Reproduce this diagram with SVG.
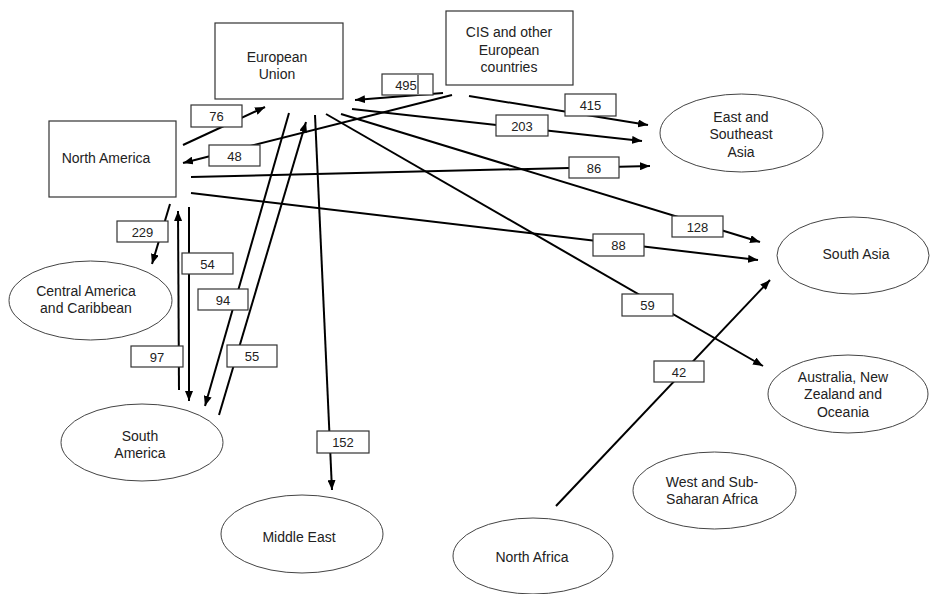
<svg xmlns="http://www.w3.org/2000/svg" width="930" height="594" viewBox="0 0 930 594">
<style>
.node{fill:#fff;stroke:#333;stroke-width:1.2}
.ell{fill:#fff;stroke:#444;stroke-width:1}
.t{font-family:"Liberation Sans",Arial,sans-serif;font-size:14px;fill:#222;text-anchor:middle}
.lt{font-family:"Liberation Sans",Arial,sans-serif;font-size:13px;fill:#222;text-anchor:middle}
.c{stroke:#000;stroke-width:2;fill:none;marker-end:url(#ah)}
.lb{fill:#fff;stroke:#333;stroke-width:1.2}
</style>
<defs>
<marker id="ah" viewBox="0 0 10 8" refX="10" refY="4" markerWidth="10" markerHeight="8" markerUnits="userSpaceOnUse" orient="auto">
<path d="M0,0 L10,4 L0,8 Z" fill="#000"/>
</marker>
</defs>
<rect width="930" height="594" fill="#fff"/>
<g id="connectors">
<line class="c" x1="183" y1="145" x2="265" y2="107"/>
<line class="c" x1="443" y1="93" x2="355" y2="100"/>
<line class="c" x1="452" y1="95" x2="183" y2="163"/>
<line class="c" x1="469" y1="96" x2="648" y2="125"/>
<line class="c" x1="352" y1="109" x2="642" y2="141"/>
<line class="c" x1="191" y1="177" x2="650" y2="166"/>
<line class="c" x1="341" y1="114" x2="760" y2="242"/>
<line class="c" x1="191" y1="193" x2="758" y2="260"/>
<line class="c" x1="326" y1="114" x2="763" y2="366"/>
<line class="c" x1="556" y1="506" x2="770" y2="280"/>
<line class="c" x1="170" y1="204" x2="152" y2="264"/>
<line class="c" x1="179" y1="390" x2="178" y2="211"/>
<line class="c" x1="189" y1="207" x2="189" y2="401"/>
<line class="c" x1="289" y1="113" x2="205" y2="406"/>
<line class="c" x1="219" y1="415" x2="306" y2="122"/>
<line class="c" x1="315" y1="115" x2="332" y2="490"/>
<g id="labels">
<rect class="lb" x="191" y="105" width="51" height="22"/><text class="lt" x="216.5" y="121">76</text>
<rect class="lb" x="382" y="74" width="51" height="21"/><text class="lt" x="406" y="89.5">495</text>
<line x1="418" y1="75" x2="418" y2="94" stroke="#000" stroke-width="1"/>
<rect class="lb" x="209" y="145" width="51" height="21"/><text class="lt" x="234.5" y="160.5">48</text>
<rect class="lb" x="565" y="94" width="51" height="22"/><text class="lt" x="590.5" y="110">415</text>
<rect class="lb" x="496" y="115" width="52" height="21"/><text class="lt" x="522" y="130.5">203</text>
<rect class="lb" x="569" y="157" width="50" height="21"/><text class="lt" x="594" y="172.5">86</text>
<rect class="lb" x="672" y="216" width="51" height="21"/><text class="lt" x="697.5" y="231.5">128</text>
<rect class="lb" x="593" y="234" width="51" height="22"/><text class="lt" x="618.5" y="250">88</text>
<rect class="lb" x="622" y="294" width="51" height="22"/><text class="lt" x="647.5" y="310">59</text>
<rect class="lb" x="654" y="361" width="50" height="21"/><text class="lt" x="679" y="376.5">42</text>
<rect class="lb" x="117" y="221" width="51" height="21"/><text class="lt" x="142.5" y="236.5">229</text>
<rect class="lb" x="182" y="253" width="51" height="21"/><text class="lt" x="207.5" y="268.5">54</text>
<rect class="lb" x="198" y="289" width="50" height="21"/><text class="lt" x="223" y="304.5">94</text>
<rect class="lb" x="131" y="346" width="52" height="21"/><text class="lt" x="157" y="361.5">97</text>
<rect class="lb" x="227" y="345" width="50" height="22"/><text class="lt" x="252" y="361">55</text>
<rect class="lb" x="317" y="431" width="52" height="22"/><text class="lt" x="343" y="447">152</text>
</g>
</g>
<g id="eu"><rect class="node" x="215" y="23" width="128" height="76"/><text class="t" x="277" y="62">European</text><text class="t" x="277" y="79">Union</text></g>
<g id="cis"><rect class="node" x="446" y="11" width="127" height="74"/><text class="t" x="509" y="37">CIS and other</text><text class="t" x="509" y="55">European</text><text class="t" x="509" y="72">countries</text></g>
<g id="na"><rect class="node" x="49" y="121" width="127" height="76"/><text class="t" x="106" y="163">North America</text></g>
<g id="esa"><ellipse class="ell" cx="741.5" cy="133" rx="81.5" ry="39"/><text class="t" x="741" y="122">East and</text><text class="t" x="741" y="139">Southeast</text><text class="t" x="741" y="157">Asia</text></g>
<g id="sa"><ellipse class="ell" cx="853" cy="255.5" rx="76" ry="38.5"/><text class="t" x="856" y="259">South Asia</text></g>
<g id="anz"><ellipse class="ell" cx="848" cy="394" rx="80" ry="39"/><text class="t" x="843" y="382">Australia, New</text><text class="t" x="843" y="399">Zealand and</text><text class="t" x="843" y="417">Oceania</text></g>
<g id="wsa"><ellipse class="ell" cx="714.5" cy="490.5" rx="81.5" ry="38.5"/><text class="t" x="712" y="487">West and Sub-</text><text class="t" x="712" y="504">Saharan Africa</text></g>
<g id="naf"><ellipse class="ell" cx="533" cy="556" rx="80" ry="38"/><text class="t" x="532" y="562">North Africa</text></g>
<g id="me"><ellipse class="ell" cx="302" cy="534" rx="81" ry="39"/><text class="t" x="299" y="542">Middle East</text></g>
<g id="sam"><ellipse class="ell" cx="142" cy="442.5" rx="81" ry="38.5"/><text class="t" x="140" y="441">South</text><text class="t" x="140" y="458">America</text></g>
<g id="cac"><ellipse class="ell" cx="90.5" cy="300.5" rx="81.5" ry="39.5"/><text class="t" x="86" y="296">Central America</text><text class="t" x="86" y="313">and Caribbean</text></g>
</svg>
